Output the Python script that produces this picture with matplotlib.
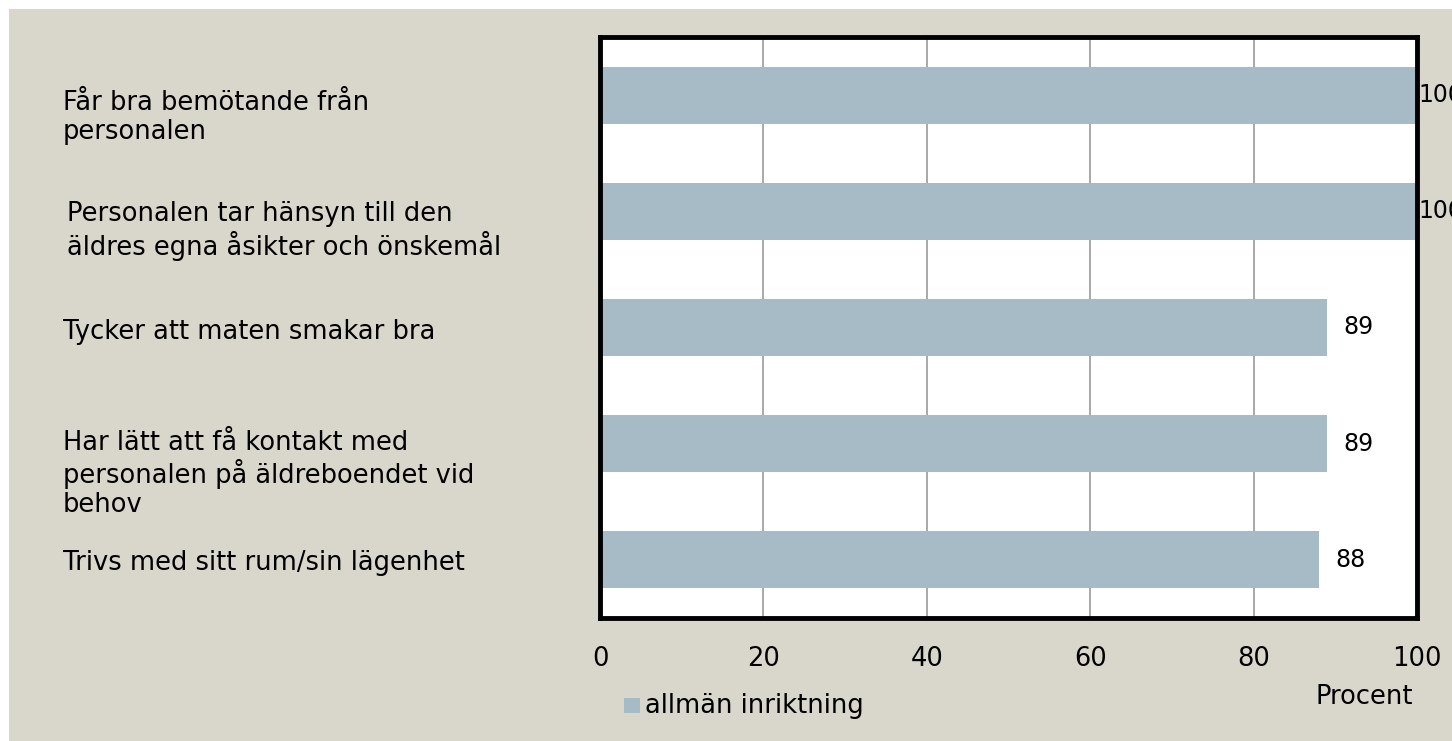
import matplotlib.pyplot as plt
from matplotlib.patches import Rectangle
from matplotlib.transforms import blended_transform_factory

categories = [
    "Får bra bemötande från\npersonalen",
    "Personalen tar hänsyn till den\näldres egna åsikter och önskemål",
    "Tycker att maten smakar bra",
    "Har lätt att få kontakt med\npersonalen på äldreboendet vid\nbehov",
    "Trivs med sitt rum/sin lägenhet",
]
values = [100, 100, 89, 89, 88]
series_name = "allmän inriktning"
xticks = [0, 20, 40, 60, 80, 100]

bar_color = "#A7BBC6"
bg_color = "#D9D7CB"

plt.rcParams['font.family'] = ['DejaVu Sans']
fs = 18.5

W, H = 1452, 741
fig = plt.figure(figsize=(W / 100, H / 100), dpi=100)
fig.patch.set_facecolor("white")

# beige panel behind everything
bg = fig.add_axes([9 / W, 0, 1 - 9 / W, 1 - 9 / H], zorder=0)
bg.set_facecolor(bg_color)
bg.set_xticks([])
bg.set_yticks([])
for s in bg.spines.values():
    s.set_visible(False)

ax = fig.add_axes([600 / W, 1 - 618 / H, 817 / W, 581 / H], zorder=2)
ax.set_facecolor("white")

ypos = list(range(len(categories)))
ax.barh(ypos, values, height=0.49, color=bar_color, zorder=2)
ax.set_xlim(0, 100)
ax.set_ylim(len(categories) - 0.5, -0.5)

ax.set_xticks(xticks)
ax.set_xticklabels([str(t) for t in xticks], fontsize=fs)
ax.tick_params(axis='x', length=0, pad=20)
ax.set_yticks([])
ax.grid(axis='x', color="#9a9a9a", lw=1.2, zorder=1)
for s in ax.spines.values():
    s.set_linewidth(3.5)
    s.set_color("black")

# value labels
for y, v in zip(ypos, values):
    off = 1 if v >= 100 else 16
    ax.annotate(str(v), (v, y), xytext=(off, 0), textcoords='offset pixels',
                ha='left', va='center', fontsize=17, annotation_clip=False)

# category labels on the left, left aligned
label_x = [63, 67, 63, 63, 63]
label_dy = [0.19, 0.17, 0.04, 0.26, 0.03]
trans = blended_transform_factory(fig.transFigure, ax.transData)
for y, lab, lx, dy in zip(ypos, categories, label_x, label_dy):
    ax.text(lx / W, y + dy, lab, transform=trans, ha='left', va='center',
            fontsize=fs, linespacing=1.15, clip_on=False)

fig.text(1413 / W, 1 - 697 / H, "Procent", ha='right', va='center', fontsize=fs, zorder=3)

# legend
fig.patches.append(Rectangle((624 / W, 1 - 713 / H), 16 / W, 15 / H, transform=fig.transFigure,
                             facecolor=bar_color, edgecolor="none", zorder=3))
fig.text(645 / W, 1 - 706 / H, series_name, ha='left', va='center', fontsize=fs, zorder=3)

fig.savefig("out.png", dpi=100, facecolor=fig.get_facecolor())
